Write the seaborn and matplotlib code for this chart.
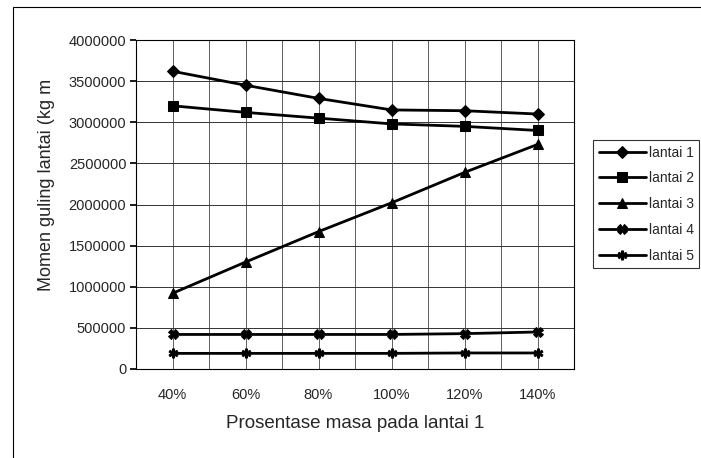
import numpy as np
import pandas as pd
import matplotlib
matplotlib.use("Agg")
import matplotlib.pyplot as plt
from matplotlib.path import Path
from matplotlib.patches import Rectangle
import seaborn as sns

categories = ["40%", "60%", "80%", "100%", "120%", "140%"]
lantai_1 = [3620000, 3450000, 3290000, 3150000, 3140000, 3100000]
lantai_2 = [3200000, 3120000, 3050000, 2980000, 2950000, 2900000]
lantai_3 = [920000, 1300000, 1670000, 2020000, 2390000, 2730000]
lantai_4 = [420000, 420000, 420000, 420000, 430000, 450000]
lantai_5 = [190000, 190000, 190000, 190000, 195000, 195000]
series_names = ["lantai 1", "lantai 2", "lantai 3", "lantai 4", "lantai 5"]
y_ticks = [0, 500000, 1000000, 1500000, 2000000, 2500000, 3000000, 3500000, 4000000]

def asterisk_path(n=6, w=0.22, r=1.0, start=np.pi / 2):
    verts = []
    for k in range(n):
        th = start + 2 * np.pi * k / n
        d = np.array([np.cos(th), np.sin(th)])
        p = np.array([-np.sin(th), np.cos(th)])
        thi = th - np.pi / n
        inner = (w / np.sin(np.pi / n)) * np.array([np.cos(thi), np.sin(thi)])
        verts.append(inner)
        verts.append(r * d - w * p)
        verts.append(r * d + w * p)
    verts.append(verts[0])
    codes = [Path.MOVETO] + [Path.LINETO] * (len(verts) - 2) + [Path.CLOSEPOLY]
    return Path(np.array(verts), codes)

ast = asterisk_path()

rows = []
for name, vals in zip(series_names, [lantai_1, lantai_2, lantai_3, lantai_4, lantai_5]):
    for i, v in enumerate(vals):
        rows.append({"x": i, "y": v, "series": name})
df = pd.DataFrame(rows)

sns.set_theme(style="white")
plt.rcParams["font.family"] = ["Liberation Sans", "DejaVu Sans"]

fig = plt.figure(figsize=(7.01, 4.58), dpi=100)
ax = fig.add_axes([136 / 701, 1 - 369 / 458, (574 - 136) / 701, (369 - 40) / 458])

markers = {"lantai 1": "D", "lantai 2": "s", "lantai 3": "^", "lantai 4": "X", "lantai 5": ast}
palette = {n: "black" for n in series_names}
sns.lineplot(data=df, x="x", y="y", hue="series", style="series", markers=markers,
             dashes=False, palette=palette, linewidth=2.0, markersize=6.5,
             markeredgecolor="black", ax=ax, legend=True, zorder=3)

ax.set_xlim(-0.5, 5.5)
ax.set_ylim(0, 4000000)
ax.set_yticks(y_ticks)
ax.set_yticklabels([str(t) for t in y_ticks], fontsize=10.5)
ax.set_xticks(range(len(categories)))
ax.set_xticklabels(categories, fontsize=10.5)
ax.set_xticks(np.arange(-0.5, 6.0, 1.0), minor=True)
ax.tick_params(axis="x", which="major", length=0, pad=14)
ax.tick_params(axis="x", which="minor", length=4, color="black", direction="out")
ax.tick_params(axis="y", which="major", length=4, color="black", direction="out", pad=3)
ax.tick_params(left=True, bottom=True)

ax.grid(True, axis="y", which="major", color="#333333", linewidth=0.7)
ax.grid(True, axis="x", which="both", color="#444444", linewidth=0.6)
ax.set_axisbelow(True)

for s in ax.spines.values():
    s.set_color("black")
    s.set_linewidth(0.8)

ax.set_xlabel("Prosentase masa pada lantai 1", fontsize=13.5, labelpad=9)
ax.set_ylabel("Momen guling lantai (kg m", fontsize=13)
ax.yaxis.set_label_coords((55 - 136) / 438, (369 - 185) / 329)

handles, labels = ax.get_legend_handles_labels()
leg = ax.legend(handles, labels, loc="upper left",
                bbox_to_anchor=(593 / 701, 1 - 140 / 458),
                bbox_transform=fig.transFigure, fontsize=10, frameon=True,
                fancybox=False, edgecolor="black", handlelength=3.4,
                handletextpad=0.2, labelspacing=0.85, borderaxespad=0,
                borderpad=0.4)
leg.get_frame().set_linewidth(0.8)

fig.patches.append(Rectangle((13 / 701, -0.05), 1.0, 1 - 7 / 458 + 0.05,
                             transform=fig.transFigure, fill=False,
                             edgecolor="black", linewidth=0.8))

fig.savefig("out.png", dpi=100, facecolor="white")
